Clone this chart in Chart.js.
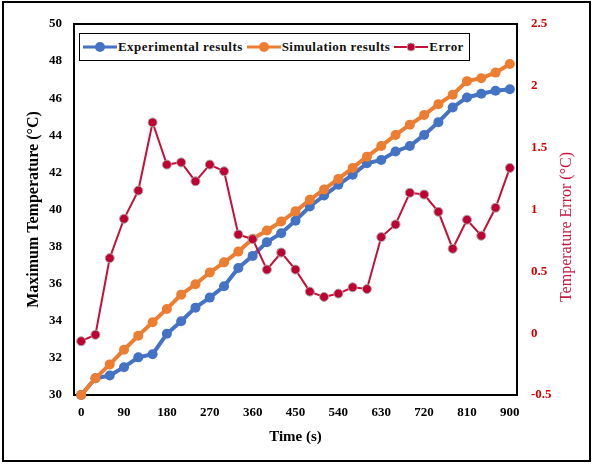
<!DOCTYPE html>
<html>
<head>
<meta charset="utf-8">
<script src="https://cdn.jsdelivr.net/npm/chart.js@4.4.1/dist/chart.umd.min.js"></script>
<style>
  body { margin: 0; background: #fff; }
  #wrap { position: relative; width: 592px; height: 464px; }
  #legend {
    position: absolute; left: 79px; top: 33px; width: 386px; height: 26px;
    border: 1.5px solid #000; background: #fff; box-sizing: content-box;
    display: flex; align-items: center; padding-left: 3px;
    overflow: hidden; white-space: nowrap;
    font: bold 13px "Liberation Serif", "Times New Roman", serif; color: #111;
    letter-spacing: 0.45px;
  }
  .item { display: flex; align-items: center; margin-right: 4px; }
  .swatch { position: relative; width: 34px; height: 12px; margin-right: 1px; flex: none; }
  .swatch .ln { position: absolute; left: 0; right: 0; top: 50%; transform: translateY(-50%); }
  .swatch .dot { position: absolute; left: 50%; top: 50%; border-radius: 50%; transform: translate(-50%, -50%); box-sizing: border-box; }
</style>
</head>
<body>
<div id="wrap">
  <canvas id="chart" width="592" height="464"></canvas>
  <div id="legend"></div>
</div>
<script>
const timeLabels = [0, 30, 60, 90, 120, 150, 180, 210, 240, 270, 300, 330, 360, 390, 420, 450,
  480, 510, 540, 570, 600, 630, 660, 690, 720, 750, 780, 810, 840, 870, 900];

const experimental = [30.0, 30.9, 31.05, 31.5, 32.03, 32.2, 33.3, 33.98, 34.71, 35.25, 35.86,
  36.85, 37.5, 38.24, 38.72, 39.4, 40.16, 40.75, 41.33, 41.88, 42.49, 42.67, 43.13, 43.42,
  44.02, 44.71, 45.5, 46.04, 46.24, 46.4, 46.48];

const simulation = [30.0, 30.9, 31.65, 32.44, 33.2, 33.92, 34.64, 35.41, 35.97, 36.6, 37.15,
  37.73, 38.42, 38.87, 39.35, 39.9, 40.52, 41.08, 41.65, 42.24, 42.85, 43.42, 44.02, 44.57,
  45.09, 45.68, 46.19, 46.92, 47.08, 47.38, 47.84];

const errorVals = [-0.065, -0.013, 0.607, 0.925, 1.153, 1.704, 1.363, 1.381, 1.228, 1.363, 1.309,
  0.798, 0.76, 0.514, 0.652, 0.514, 0.336, 0.293, 0.32, 0.371, 0.357, 0.777, 0.879, 1.135,
  1.121, 0.981, 0.683, 0.917, 0.788, 1.014, 1.336];

const FONT = '"Liberation Serif", "Times New Roman", serif';

// box round the plot, outer frame, right axis title (reads bottom to top)
const framePlugin = {
  id: "frame",
  beforeDatasetsDraw(chart) {
    const { ctx, chartArea: a } = chart;
    ctx.save();
    ctx.strokeStyle = "#000";
    ctx.lineWidth = 2;
    ctx.strokeRect(a.left, a.top, a.right - a.left, a.bottom - a.top);
    ctx.restore();
  },
  afterDraw(chart) {
    const ctx = chart.ctx;
    const y1 = chart.scales.y1;
    ctx.save();
    ctx.strokeStyle = "#000";
    ctx.lineWidth = 2;
    ctx.strokeRect(3, 2, 587, 459);
    ctx.translate(y1.right - 25, 227);
    ctx.rotate(-Math.PI / 2);
    ctx.font = "16px " + FONT;
    ctx.fillStyle = "#C8163F";
    ctx.textAlign = "center";
    ctx.textBaseline = "middle";
    ctx.fillText("Temperature Error (\u00B0C)", 0, 0);
    ctx.restore();
  },
};

const chart = new Chart(document.getElementById("chart"), {
  type: "line",
  data: {
    labels: timeLabels,
    datasets: [
      {
        label: "Experimental results",
        data: experimental,
        yAxisID: "y",
        order: 2,
        borderColor: "#4472C4",
        backgroundColor: "#4472C4",
        borderWidth: 4,
        pointRadius: 5,
        pointBorderWidth: 0,
        clip: false,
      },
      {
        label: "Simulation results",
        data: simulation,
        yAxisID: "y",
        order: 1,
        borderColor: "#ED7D31",
        backgroundColor: "#ED7D31",
        borderWidth: 4,
        pointRadius: 5,
        pointBorderWidth: 0,
        clip: false,
      },
      {
        label: "Error",
        data: errorVals,
        yAxisID: "y1",
        order: 0,
        borderColor: "#C5103A",
        backgroundColor: "#C00030",
        pointBorderColor: "#A8A8A8",
        borderWidth: 2,
        pointRadius: 4.5,
        pointBorderWidth: 1,
        clip: false,
      },
    ],
  },
  options: {
    responsive: false,
    animation: false,
    layout: { padding: { top: 24, left: 0, right: 0, bottom: 0 } },
    plugins: { legend: { display: false }, tooltip: { enabled: false } },
    scales: {
      x: {
        type: "category",
        offset: true,
        grid: { display: false, drawTicks: false },
        border: { display: false },
        ticks: {
          autoSkip: false,
          maxRotation: 0,
          padding: 10,
          color: "#000",
          font: { family: FONT, size: 13, weight: "bold" },
          callback: (val, idx) => (timeLabels[idx] % 90 === 0 ? String(timeLabels[idx]) : ""),
        },
        title: {
          display: true,
          text: "Time (s)",
          color: "#000",
          font: { family: FONT, size: 15, weight: "bold" },
          padding: { top: 0, bottom: 18 },
        },
        afterFit: (s) => { s.height = 69; },
      },
      y: {
        position: "left",
        min: 30,
        max: 50,
        grid: { display: false, drawTicks: false },
        border: { display: false },
        ticks: {
          stepSize: 2,
          padding: 12,
          color: "#000",
          font: { family: FONT, size: 13, weight: "bold" },
        },
        title: {
          display: true,
          text: "Maximum Temperature (\u00B0C)",
          color: "#000",
          font: { family: FONT, size: 16, weight: "bold" },
          padding: { top: 24, bottom: 0 },
        },
        afterFit: (s) => { s.width = 74; },
      },
      y1: {
        position: "right",
        min: -0.5,
        max: 2.5,
        grid: { display: false, drawTicks: false },
        border: { display: false },
        ticks: {
          stepSize: 0.5,
          padding: 14,
          color: "#D60000",
          font: { family: FONT, size: 13, weight: "bold" },
          callback: (v) => String(Math.round(v * 10) / 10),
        },
        afterFit: (s) => { s.width = 75; },
      },
    },
  },
  plugins: [framePlugin],
});

// html legend: line + marker swatch, boxed
const legendEl = document.getElementById("legend");
chart.data.datasets.forEach((ds) => {
  const item = document.createElement("div");
  item.className = "item";
  const sw = document.createElement("span");
  sw.className = "swatch";
  const ln = document.createElement("span");
  ln.className = "ln";
  ln.style.height = (ds.borderWidth === 2 ? 2 : 3) + "px";
  ln.style.background = ds.borderColor;
  const dot = document.createElement("span");
  dot.className = "dot";
  const d = ds.pointRadius * 2;
  dot.style.width = d + "px";
  dot.style.height = d + "px";
  dot.style.background = ds.backgroundColor;
  if (ds.pointBorderWidth) dot.style.border = ds.pointBorderWidth + "px solid " + ds.pointBorderColor;
  sw.appendChild(ln);
  sw.appendChild(dot);
  const txt = document.createElement("span");
  txt.textContent = ds.label;
  item.appendChild(sw);
  item.appendChild(txt);
  legendEl.appendChild(item);
});
</script>
</body>
</html>
